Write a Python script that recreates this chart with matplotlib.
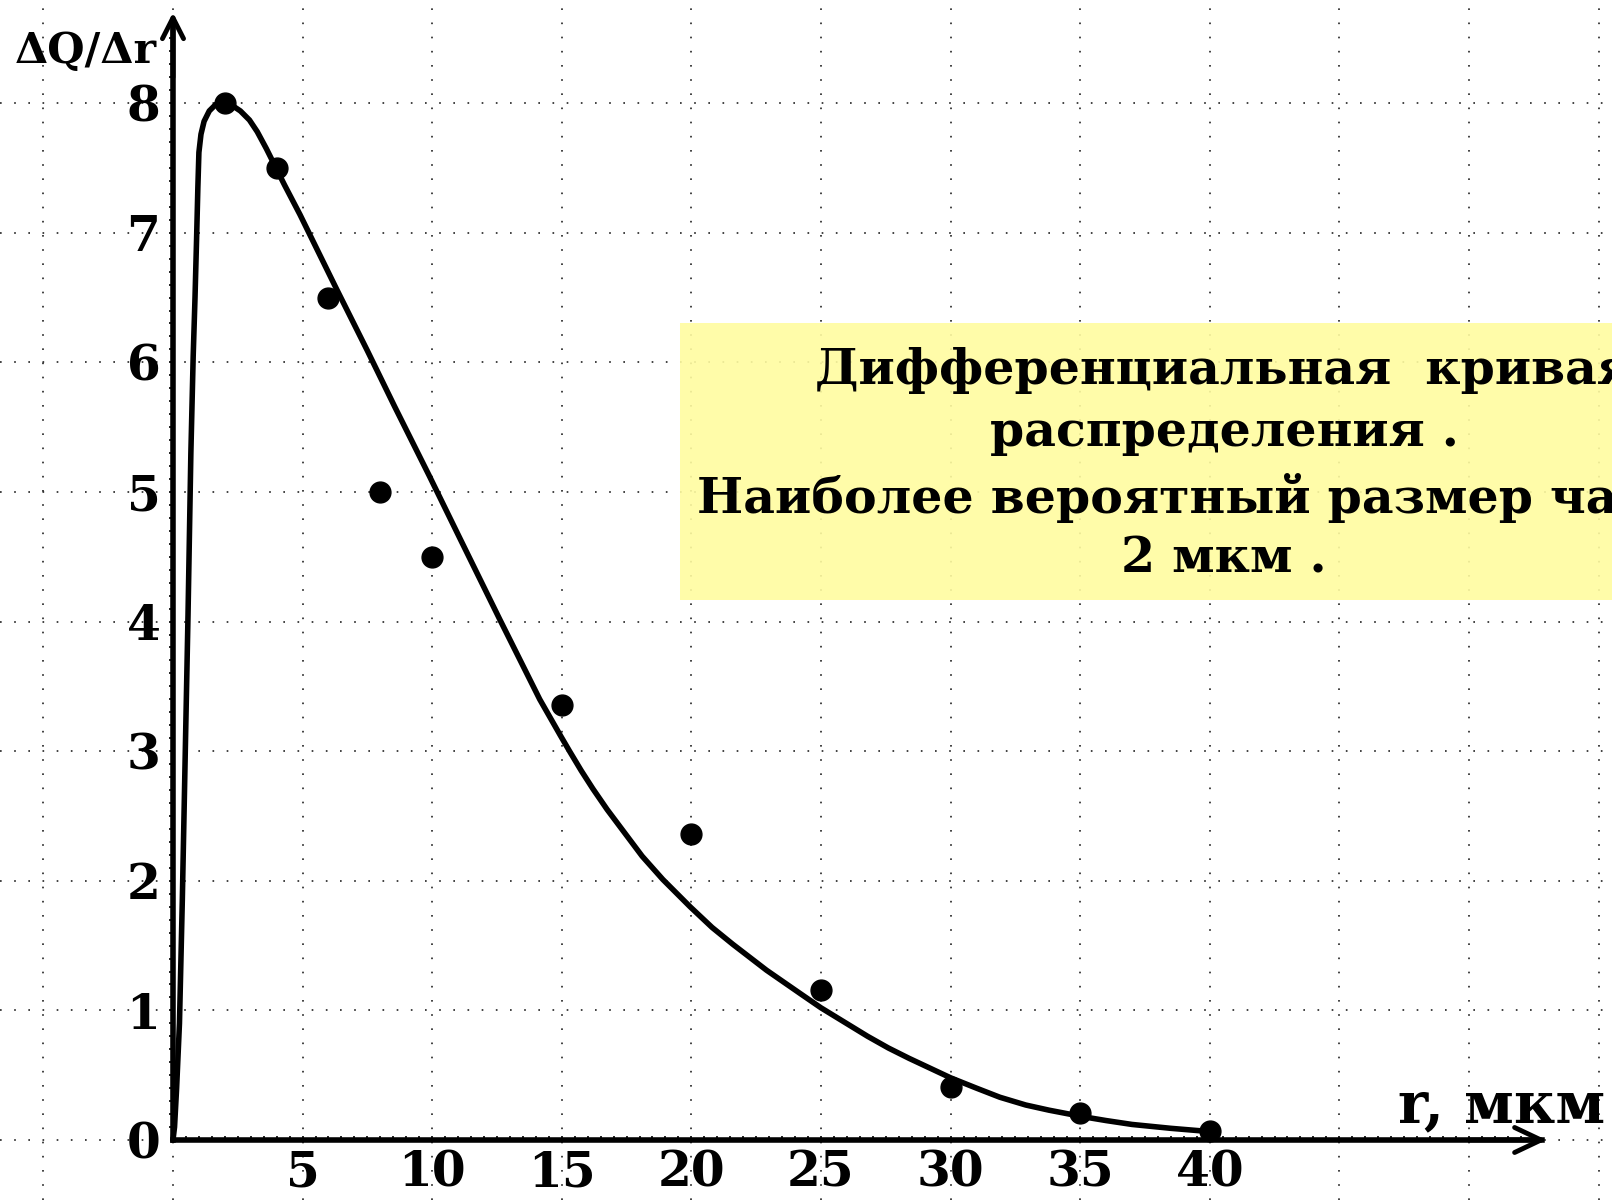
import numpy as np
import matplotlib
matplotlib.use("Agg")
import matplotlib.pyplot as plt
from matplotlib.patches import Rectangle
from matplotlib.ticker import FixedLocator

# ---- data ----
point_r = [2, 4, 6, 8, 10, 15, 20, 25, 30, 35, 40]
point_q = [8.0, 7.5, 6.5, 5.0, 4.5, 3.36, 2.36, 1.16, 0.41, 0.21, 0.07]

curve_r = [0, 0.06, 0.14, 0.25, 0.36, 0.47, 0.58, 0.69, 0.78, 0.85, 0.91, 0.96,
           1.00, 1.08, 1.20, 1.40, 1.65, 1.95, 2.30, 2.60, 2.95, 3.25, 3.60,
           3.95, 4.30, 4.90, 6.30, 7.50, 8.55, 9.90, 11.10, 12.60, 13.60, 14.15,
           14.55, 14.95, 15.30, 15.75, 16.20, 16.75, 17.35, 18.10, 18.90, 19.95,
           20.80, 21.60, 22.90, 24.20, 25.00, 25.90, 26.80, 27.60, 28.40, 30.00,
           31.00, 31.90, 32.90, 33.80, 35.10, 36.00, 37.00, 38.50, 39.70]
curve_q = [0, 0.10, 0.40, 0.90, 1.85, 2.95, 4.05, 5.30, 6.05, 6.50, 6.95, 7.35,
           7.62, 7.76, 7.86, 7.94, 7.99, 8.00, 7.98, 7.94, 7.87, 7.78, 7.65,
           7.51, 7.37, 7.14, 6.57, 6.09, 5.66, 5.12, 4.63, 4.02, 3.62, 3.40,
           3.26, 3.12, 3.00, 2.85, 2.71, 2.55, 2.39, 2.19, 2.01, 1.80,
           1.64, 1.51, 1.31, 1.13, 1.02, 0.91, 0.80, 0.71, 0.63, 0.48,
           0.40, 0.33, 0.27, 0.23, 0.18, 0.15, 0.12, 0.09, 0.07]

x_ticks = [5, 10, 15, 20, 25, 30, 35, 40]
x_tick_labels = ["5", "10", "15", "20", "25", "30", "35", "40"]
y_ticks = [0, 1, 2, 3, 4, 5, 6, 7, 8]
y_tick_labels = ["0", "1", "2", "3", "4", "5", "6", "7", "8"]
grid_x = [-5, 0, 5, 10, 15, 20, 25, 30, 35, 40, 45, 50, 55]
grid_y = [0, 1, 2, 3, 4, 5, 6, 7, 8]

y_label = "ΔQ/Δr"
x_label = "r, мкм"
box_lines = ["Дифференциальная  кривая",
             "распределения .",
             "Наиболее вероятный размер частиц",
             "2 мкм ."]

FONT = "DejaVu Serif"

fig = plt.figure(figsize=(16.12, 12), dpi=100)
ax = fig.add_axes([0, 0, 1, 1])
ax.set_xlim(-6.674, 55.52)
ax.set_ylim(-0.463, 8.796)
ax.set_facecolor("white")

# dotted grid
for gx in grid_x:
    ax.axvline(gx, ls=(0, (1, 7.5)), lw=1.2, color="#222222", zorder=1)
for gy in grid_y:
    ax.axhline(gy, ls=(0, (1, 7.5)), lw=1.2, color="#222222", zorder=1)

# yellow annotation box
ax.add_patch(Rectangle((19.56, 4.17), 40, 2.13, facecolor="#FFFCA0",
                       edgecolor="none", alpha=0.9, zorder=2))

# axes (spines through origin)
for s in ["top", "right"]:
    ax.spines[s].set_visible(False)
ax.spines["left"].set_position(("data", 0))
ax.spines["bottom"].set_position(("data", 0))
ax.spines["left"].set_bounds(0, 8.62)
ax.spines["bottom"].set_bounds(0, 52.8)
for s in ["left", "bottom"]:
    ax.spines[s].set_linewidth(4)
    ax.spines[s].set_zorder(3)

ax.xaxis.remove_overlapping_locs = False
ax.yaxis.remove_overlapping_locs = False
ax.set_xticks(x_ticks)
ax.set_xticklabels(x_tick_labels)
ax.set_yticks(y_ticks)
ax.set_yticklabels(y_tick_labels)
ax.xaxis.set_minor_locator(FixedLocator(np.arange(0.5, 52.6, 0.5)))
ax.yaxis.set_minor_locator(FixedLocator(np.arange(0.1, 8.6, 0.1)))
ax.tick_params(axis="x", which="minor", direction="in", length=3, width=1.2)
ax.tick_params(axis="y", which="minor", direction="out", length=3, width=1.2)
ax.tick_params(axis="x", which="major", length=0, pad=7)
ax.tick_params(axis="y", which="major", length=0, pad=9)
for lab in ax.get_xticklabels() + ax.get_yticklabels():
    lab.set_fontfamily(FONT)
    lab.set_fontweight("bold")
    lab.set_fontsize(35)

# arrow heads
ax.annotate("", xy=(53.0, 0), xytext=(50.0, 0),
            arrowprops=dict(arrowstyle="->,head_length=0.95,head_width=0.45",
                            lw=3.5, color="black", shrinkA=0, shrinkB=0,
                            mutation_scale=20), zorder=3)
ax.annotate("", xy=(0, 8.70), xytext=(0, 8.2),
            arrowprops=dict(arrowstyle="->,head_length=0.75,head_width=0.38",
                            lw=3.5, color="black", shrinkA=0, shrinkB=0,
                            mutation_scale=20), zorder=3)

# curve and points
ax.plot(curve_r, curve_q, color="black", lw=4, solid_joinstyle="round",
        solid_capstyle="round", zorder=4)
ax.plot(point_r, point_q, "o", color="black", ms=15, zorder=5)

# axis labels
ty = ax.text(-6.1, 8.31, y_label, fontfamily=FONT, fontweight="bold",
             fontsize=30, ha="left", va="baseline", zorder=6)
tx = ax.text(47.26, 0.139, x_label, fontfamily=FONT, fontweight="bold",
             fontsize=40, ha="left", va="baseline", zorder=6)

# box text (clipped by the right edge, as in the reference)
box_y = [5.94, 5.46, 4.95, 4.48]
box_texts = []
for line, yy in zip(box_lines, box_y):
    box_texts.append(ax.text(40.55, yy, line, fontfamily=FONT, fontweight="bold",
                             fontsize=30, ha="center", va="center", zorder=6))

# fit sizes to the measured widths of the reference
fig.canvas.draw()
r = fig.canvas.get_renderer()
def fit(t, w):
    bb = t.get_window_extent(renderer=r)
    t.set_fontsize(t.get_fontsize() * w / bb.width)
fit(ty, 142)
fit(tx, 207)
fit(box_texts[1], 468)
for t in box_texts:
    t.set_fontsize(box_texts[1].get_fontsize())

fig.savefig("out.png", dpi=100, facecolor="white")
